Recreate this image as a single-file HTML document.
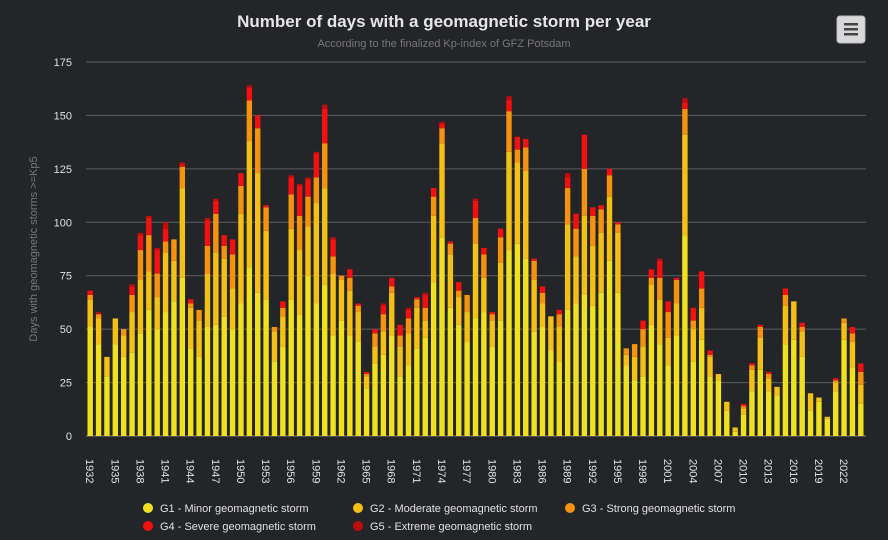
<!DOCTYPE html>
<html><head><meta charset="utf-8"><style>
html,body{margin:0;padding:0;background:#232529;}
svg{display:block;font-family:"Liberation Sans",sans-serif;}
</style></head><body>
<svg id="chart" width="888" height="540">
<rect width="888" height="540" fill="#232529"/>
<text x="444" y="27" text-anchor="middle" font-size="17" font-weight="bold" fill="#e6e6e6">Number of days with a geomagnetic storm per year</text>
<text x="444" y="47" text-anchor="middle" font-size="11" fill="#777">According to the finalized Kp-index of GFZ Potsdam</text>
<g>
<rect x="837" y="16" width="28" height="27" rx="3" fill="#d8d8d8" stroke="#bbb"/>
<rect x="844" y="23" width="14" height="2.5" fill="#444"/><rect x="844" y="28" width="14" height="2.5" fill="#444"/><rect x="844" y="33" width="14" height="2.5" fill="#444"/>
</g>
<text transform="translate(37,249) rotate(-90)" text-anchor="middle" font-size="11" fill="#777">Days with geomagnetic storms &gt;=Kp5</text>
<g id="grid"></g><g id="bars"></g><g id="xlabels"></g>
<g font-size="11" fill="#e0e0e0">
<g><circle cx="148" cy="508" r="5" fill="#f0e020"/><text x="160" y="512">G1 - Minor geomagnetic storm</text></g>
<g><circle cx="358" cy="508" r="5" fill="#f5c016"/><text x="370" y="512">G2 - Moderate geomagnetic storm</text></g>
<g><circle cx="570" cy="508" r="5" fill="#f5930f"/><text x="582" y="512">G3 - Strong geomagnetic storm</text></g>
<g><circle cx="148" cy="526" r="5" fill="#f51010"/><text x="160" y="530">G4 - Severe geomagnetic storm</text></g>
<g><circle cx="358" cy="526" r="5" fill="#c00c0c"/><text x="370" y="530">G5 - Extreme geomagnetic storm</text></g>
</g>
</svg>
<script>
const years = [];
for (let y = 1932; y <= 2024; y++) years.push(y);
const g1 = [51,43,28,43,37,39,48,59,50,58,63,74,41,37,51,52,56,50,62,79,67,64,35,42,64,57,75,62,71,47,54,47,44,22,34,38,47,28,33,41,46,72,93,60,52,44,55,58,42,54,87,90,83,49,51,40,35,59,62,66,61,67,82,67,33,26,28,52,43,33,47,94,35,45,28,26,12,2,10,21,31,21,19,43,45,37,12,16,8,21,45,32,15];
const g2 = [13,12,9,12,10,19,25,18,15,28,19,42,19,17,25,34,27,19,42,59,56,32,14,14,33,30,23,47,45,29,19,21,14,6,8,11,20,14,15,19,8,31,44,25,13,14,35,16,12,27,46,38,41,24,11,16,16,40,22,37,28,28,30,28,5,11,14,19,21,13,15,47,15,15,9,3,4,2,3,10,15,6,4,18,18,12,8,2,1,4,8,12,9];
const g3 = [2,2,0,0,3,8,14,17,11,5,10,10,2,5,13,18,6,16,13,19,21,11,2,4,16,16,14,12,21,8,2,6,3,1,6,8,3,5,7,4,6,9,7,5,3,8,12,11,3,12,19,6,11,9,5,0,6,17,13,22,14,11,10,4,3,6,8,3,10,12,11,12,4,9,1,0,0,0,1,2,5,2,0,5,0,2,0,0,0,1,2,4,6];
const g4 = [2,0,0,0,0,4,7,8,11,6,0,1,2,0,12,6,5,7,6,6,6,1,0,3,8,14,8,11,16,8,0,4,1,1,2,4,4,5,4,1,6,4,2,1,4,0,8,3,1,4,5,6,4,1,3,0,2,5,7,16,4,2,3,1,0,0,4,4,8,5,1,3,6,8,2,0,0,0,1,1,1,1,0,3,0,2,0,0,0,1,0,3,4];
const g5 = [0,1,0,0,0,1,1,1,1,3,0,1,0,0,1,1,0,0,0,1,0,0,0,0,1,1,1,1,2,1,0,0,0,0,0,1,0,0,1,0,1,0,1,0,0,0,1,0,0,0,2,0,0,0,0,0,0,2,0,0,0,0,0,0,0,0,0,0,1,0,0,2,0,0,0,0,0,0,0,0,0,0,0,0,0,0,0,0,0,0,0,0,0];
const yTicks = [0,25,50,75,100,125,150,175];
const series = [g1,g2,g3,g4,g5];
const colors = ['#f0e020','#f5c016','#f5930f','#f51010','#c00c0c'];
const names = ['g1','g2','g3','g4','g5'];
const NS = 'http://www.w3.org/2000/svg';
const plotLeft = 86, plotRight = 865, plotTop = 62, plotBottom = 436, ymax = 175;
const yS = v => plotBottom - v / ymax * (plotBottom - plotTop);
const band = (plotRight - plotLeft) / years.length;
const xS = i => plotLeft + band * i + band / 2;
const bw = 5.4;
const grid = document.getElementById('grid');
yTicks.forEach(t => {
  const l = document.createElementNS(NS, 'line');
  l.setAttribute('x1', plotLeft); l.setAttribute('x2', plotRight + 1);
  l.setAttribute('y1', yS(t)); l.setAttribute('y2', yS(t));
  l.setAttribute('stroke', t === 0 ? '#888' : '#5e5e5e'); l.setAttribute('stroke-width', 1);
  
  
  grid.appendChild(l);
  const tx = document.createElementNS(NS, 'text');
  tx.setAttribute('x', 72); tx.setAttribute('y', yS(t) + 4);
  tx.setAttribute('text-anchor', 'end'); tx.setAttribute('font-size', '11'); tx.setAttribute('fill', '#e0e0e0');
  tx.textContent = t;
  
  
  grid.appendChild(tx);
});
const bars = document.getElementById('bars');
years.forEach((yr, i) => {
  let cum = 0;
  series.forEach((s, k) => {
    const v = s[i];
    if (v <= 0) return;
    const r = document.createElementNS(NS, 'rect');
    r.setAttribute('x', xS(i) - bw / 2); r.setAttribute('width', bw);
    r.setAttribute('y', yS(cum + v)); r.setAttribute('height', yS(cum) - yS(cum + v));
    r.setAttribute('fill', colors[k]);
    
    
    bars.appendChild(r);
    cum += v;
  });
});
const xl = document.getElementById('xlabels');
years.forEach((yr, i) => {
  if ((yr - 1932) % 3 !== 0) return;
  const t = document.createElementNS(NS, 'text');
  t.setAttribute('transform', 'translate(' + (xS(i) - 4) + ',459) rotate(90)');
  t.setAttribute('font-size', '11'); t.setAttribute('fill', '#e0e0e0');
  t.textContent = yr;
  
  
  xl.appendChild(t);
});
</script>
</body></html>
